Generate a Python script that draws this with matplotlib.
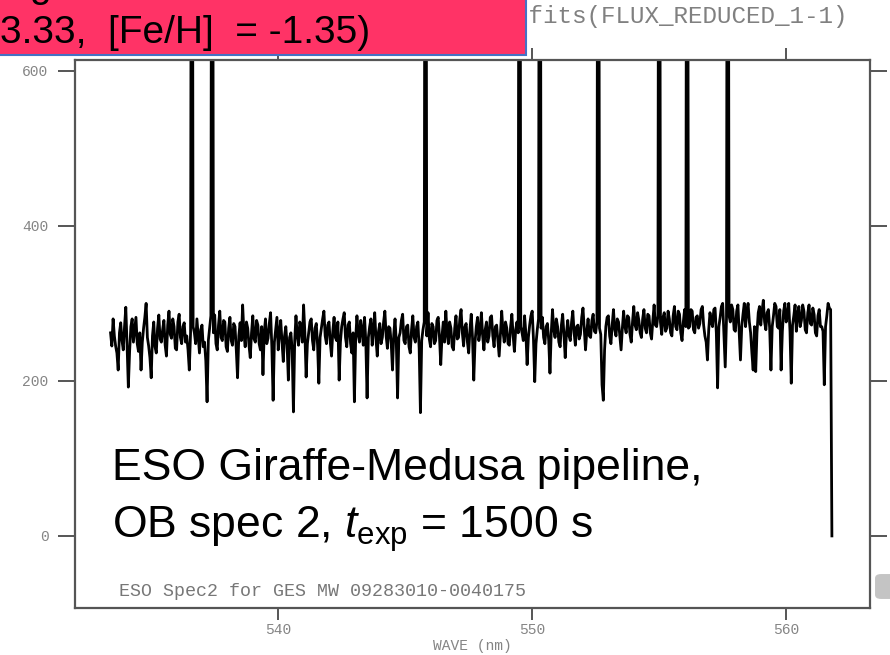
import numpy as np
import matplotlib
matplotlib.use('Agg')
import matplotlib.pyplot as plt
from matplotlib.patches import Rectangle, FancyBboxPatch

# ---- data (flux per 0.05 nm step) ----
wave_start = 533.4
wave_end = 561.8
flux = [
    262, 245, 280, 258, 245, 236, 214, 262, 275, 252, 240, 270, 295, 246, 192, 238, 270, 280, 250, 266,
    282, 248, 238, 262, 214, 250, 268, 282, 300, 256, 245, 230, 204, 258, 276, 244, 236, 268, 285, 254,
    250, 266, 278, 246, 232, 272, 290, 260, 255, 280, 270, 242, 240, 276, 286, 256, 248, 270, 275, 250,
    258, 240, 214, 262, 1500, 270, 262, 248, 280, 258, 236, 266, 272, 244, 250, 226, 173, 252, 268, 284,
    1500, 262, 285, 248, 240, 272, 290, 256, 252, 278, 276, 244, 238, 268, 282, 252, 246, 274, 270, 240,
    204, 258, 275, 252, 298, 262, 244, 276, 268, 246, 230, 262, 284, 254, 250, 278, 272, 248, 240, 270,
    208, 262, 280, 248, 255, 274, 288, 244, 175, 250, 266, 282, 240, 262, 278, 250, 225, 258, 270, 246,
    201, 256, 262, 240, 160, 252, 284, 258, 246, 276, 270, 250, 298, 262, 205, 248, 262, 276, 280, 252,
    240, 268, 274, 246, 197, 256, 268, 280, 290, 258, 248, 272, 276, 250, 232, 264, 282, 256, 252, 276,
    201, 250, 270, 280, 288, 256, 244, 272, 276, 248, 236, 262, 173, 254, 284, 260, 250, 278, 266, 246,
    282, 250, 178, 256, 270, 280, 246, 266, 288, 254, 232, 264, 274, 248, 256, 276, 290, 258, 242, 270,
    268, 248, 214, 260, 280, 250, 178, 256, 262, 278, 286, 252, 248, 270, 272, 244, 236, 266, 284, 256,
    250, 270, 276, 242, 159, 252, 266, 276, 1500, 258, 288, 254, 244, 274, 270, 248, 252, 278, 282, 256,
    221, 258, 276, 250, 290, 262, 248, 276, 268, 244, 240, 268, 284, 254, 256, 280, 292, 262, 245, 270,
    274, 250, 236, 266, 286, 256, 201, 250, 270, 282, 252, 264, 288, 258, 240, 266, 276, 250, 258, 282,
    284, 258, 244, 270, 272, 252, 232, 262, 290, 264, 250, 276, 268, 248, 246, 270, 286, 258, 238, 266,
    276, 262, 1500, 270, 262, 252, 284, 262, 221, 256, 272, 284, 290, 254, 199, 248, 266, 280, 1500, 268,
    282, 256, 248, 270, 274, 252, 210, 262, 292, 266, 256, 280, 270, 250, 244, 272, 286, 260, 230, 262,
    278, 258, 252, 276, 290, 262, 246, 270, 272, 254, 260, 282, 294, 266, 240, 264, 280, 258, 256, 278,
    286, 264, 262, 276, 1500, 268, 260, 195, 175, 240, 270, 282, 284, 258, 248, 272, 292, 266, 258, 280,
    276, 258, 240, 268, 290, 270, 262, 284, 282, 260, 250, 276, 296, 272, 266, 288, 278, 262, 256, 280,
    292, 268, 262, 286, 284, 262, 254, 278, 298, 272, 270, 284, 1500, 276, 260, 282, 288, 264, 268, 290,
    280, 262, 258, 284, 296, 270, 266, 290, 286, 262, 252, 276, 292, 270, 1500, 268, 270, 292, 290, 266,
    262, 282, 284, 268, 274, 292, 296, 272, 258, 250, 227, 266, 288, 276, 270, 292, 294, 262, 191, 270,
    282, 296, 300, 260, 218, 280, 1500, 284, 276, 298, 292, 266, 264, 290, 298, 262, 227, 270, 286, 300,
    270, 290, 300, 276, 262, 236, 214, 270, 212, 262, 288, 296, 272, 290, 304, 276, 266, 288, 292, 268,
    214, 270, 284, 300, 296, 270, 268, 292, 214, 264, 290, 300, 276, 286, 300, 264, 197, 272, 284, 298,
    264, 286, 296, 270, 278, 298, 290, 266, 262, 288, 298, 274, 272, 294, 286, 262, 258, 284, 292, 270,
    270, 264, 195, 270, 284, 300, 294, 292, 0,
]
x_ticks = [540, 550, 560]
y_ticks = [0, 200, 400, 600]
x_label = 'WAVE (nm)'
title_text = '.fits(FLUX_REDUCED_1-1)'
footer_text = 'ESO Spec2 for GES MW 09283010-0040175'
note_line1 = 'ESO Giraffe-Medusa pipeline,'
note_line2 = r'OB spec 2, $t_{\rm exp}$ = 1500 s'
box_line1 = 'g'
box_line2 = '3.33,  [Fe/H]  = -1.35)'

plt.rcParams['mathtext.fontset'] = 'custom'
plt.rcParams['mathtext.rm'] = 'Liberation Sans'
plt.rcParams['mathtext.it'] = 'Liberation Sans:italic'

W, H = 890, 655
fig = plt.figure(figsize=(W / 100, H / 100), dpi=100)
fig.patch.set_facecolor('white')


def fx(px):
    return px / W


def fy(py):
    return 1 - py / H


ax = fig.add_axes([fx(75), fy(608), fx(870) - fx(75), fy(60) - fy(608)])
wave = np.linspace(wave_start, wave_end, len(flux))
ax.plot(wave, flux, color='black', lw=2.0)
ax.set_xlim(532.0, 563.3)
ax.set_ylim(-93, 614)

spine_col = '#555555'
lab_col = '#858585'
for s in ax.spines.values():
    s.set_color(spine_col)
    s.set_linewidth(1.6)

ax.set_xticks(x_ticks)
ax.set_yticks(y_ticks)
ax.tick_params(axis='x', direction='out', length=8.6, width=1.4, color=spine_col,
               top=True, labelcolor=lab_col, labelsize=10.5, pad=2)
ax.tick_params(axis='y', direction='out', length=12, width=1.4, color=spine_col,
               right=True, labelcolor=lab_col, labelsize=10.5, pad=7)
for lbl in ax.get_xticklabels() + ax.get_yticklabels():
    lbl.set_fontfamily('Liberation Mono')

ax.set_xlabel(x_label, family='Liberation Mono', color=lab_col, fontsize=10.5, va='center')
ax.xaxis.set_label_coords(0.5, (608 - 646) / 548)

ax.text(fx(119), fy(591), footer_text, transform=fig.transFigure, family='Liberation Mono',
        color='#777777', fontsize=13.2, va='center', ha='left')

fig.text(fx(848), fy(16), title_text, ha='right', va='center', family='Liberation Mono',
         color='#808080', fontsize=17.5)

fig.text(fx(112), fy(480), note_line1, family='Liberation Sans', fontsize=32,
         va='baseline', ha='left', color='black')
fig.text(fx(112), fy(538), note_line2, family='Liberation Sans', fontsize=32,
         va='baseline', ha='left', color='black')

# overlay red box from the slide
rect = Rectangle((fx(-6), fy(55)), fx(532), 0.2, transform=fig.transFigure,
                 facecolor='#FF3366', edgecolor='#4472C4', lw=1.5, zorder=10)
fig.patches.append(rect)
fig.text(fx(29), fy(-3), box_line1, family='Liberation Sans', fontsize=28,
         va='baseline', ha='left', color='black', zorder=11)
fig.text(fx(0), fy(43), box_line2, family='Liberation Sans', fontsize=28,
         va='baseline', ha='left', color='black', zorder=11)

# small grey tab at the bottom right
tab = FancyBboxPatch((fx(874), fy(600)), fx(30), fy(573) - fy(600),
                     boxstyle='round,pad=0,rounding_size=0.008', transform=fig.transFigure,
                     facecolor='#c4c4c4', edgecolor='white', lw=1.5, zorder=10)
fig.patches.append(tab)

fig.savefig('out.png', dpi=100)
